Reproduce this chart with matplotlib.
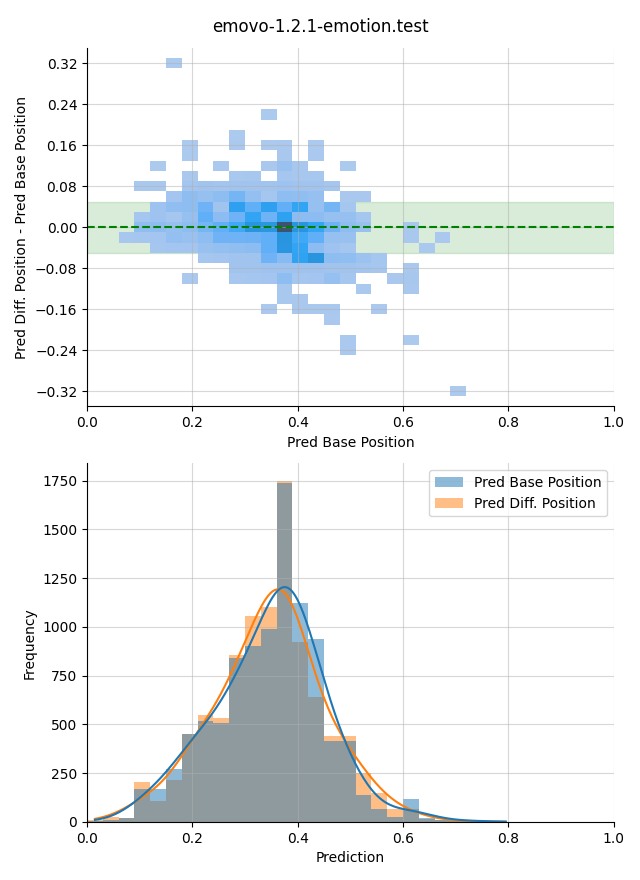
import numpy as np
import matplotlib
matplotlib.use("Agg")
import matplotlib.pyplot as plt
from matplotlib.patches import Patch
import seaborn as sns

title = "emovo-1.2.1-emotion.test"
base_label = "Pred Base Position"
diff_label = "Pred Diff. Position"

# histogram bins: 0.03 wide, starting at 0.0
bin_width = 0.03
x_edges = np.linspace(0.0, 0.81, 28)
y_edges = np.linspace(-0.33, 0.33, 34)

# bottom panel, counts per bin
base_counts = [5, 8, 22, 171, 171, 272, 453, 518, 505, 838, 900, 989, 1737, 1120,
               936, 417, 417, 137, 68, 24, 120, 20, 10, 8, 5, 3, 1]
diff_counts = [8, 25, 22, 203, 106, 217, 453, 549, 535, 854, 1054, 1100, 1750, 922,
               640, 438, 438, 251, 149, 67, 67, 15, 8, 5, 3, 1, 0]

# top panel: one entry per row of cells (y centre, first x bin, counts; 0 = empty)
row_y = [0.32, 0.22, 0.18, 0.16, 0.14, 0.12, 0.10, 0.08, 0.06, 0.04, 0.02, 0.0,
         -0.02, -0.04, -0.06, -0.08, -0.10, -0.12, -0.14, -0.16, -0.18, -0.22,
         -0.24, -0.32]
row_start = [5, 11, 9, 6, 6, 4, 6, 3, 5, 4, 3, 3,
             2, 4, 7, 9, 6, 12, 12, 11, 15, 16,
             16, 23]
row_counts = [
    [1],
    [1],
    [2],
    [2, 0, 0, 3, 0, 2, 3, 0, 2],
    [2, 0, 0, 0, 0, 0, 5, 0, 3],
    [2, 0, 0, 0, 3, 0, 0, 5, 40, 12, 0, 0, 2],
    [5, 0, 0, 8, 10, 0, 15, 12, 10],
    [8, 6, 0, 20, 25, 20, 25, 25, 25, 30, 25, 25, 15],
    [20, 60, 45, 60, 100, 50, 15, 60, 55, 45, 0, 5, 5],
    [30, 55, 60, 110, 25, 200, 130, 200, 130, 185, 45, 100, 15],
    [15, 30, 15, 45, 130, 65, 110, 185, 110, 195, 65, 65, 45, 45, 15],
    [55, 60, 45, 60, 100, 130, 165, 250, 240, 540, 250, 180, 110, 60, 40, 0, 0, 8],
    [10, 15, 20, 50, 40, 60, 110, 110, 115, 130, 250, 165, 130, 45, 40, 0, 0, 0, 8, 0, 3],
    [15, 20, 20, 40, 50, 55, 65, 130, 245, 185, 65, 30, 15, 0, 0, 0, 0, 3],
    [15, 20, 25, 25, 110, 70, 190, 250, 60, 55, 35, 15],
    [25, 25, 30, 30, 30, 30, 25, 25, 20, 15, 0, 5],
    [3, 0, 0, 10, 15, 20, 60, 15, 20, 45, 15, 0, 0, 5, 10],
    [8, 0, 0, 0, 0, 4, 0, 0, 5],
    [8, 5],
    [3, 0, 5, 8, 8, 0, 0, 3],
    [3],
    [3, 0, 0, 0, 2],
    [3],
    [1],
]

# flatten the cell rows into weighted points at the bin centres
x_centres = (x_edges[:-1] + x_edges[1:]) / 2
cell_x, cell_y, cell_n = [], [], []
for y, start, counts in zip(row_y, row_start, row_counts):
    for k, n in enumerate(counts):
        if n > 0:
            cell_x.append(x_centres[start + k])
            cell_y.append(y)
            cell_n.append(n)

fig, (ax1, ax2) = plt.subplots(2, 1, figsize=(6.4, 8.8))
fig.subplots_adjust(left=0.136, right=0.959, top=0.9455, bottom=0.066, hspace=0.159)
fig.suptitle(title, fontsize=12)

# 2d histogram of base position vs difference
band = ax1.axhspan(-0.05, 0.05, color="green", alpha=0.15)
band.set_zorder(0.4)
sns.histplot(x=cell_x, y=cell_y, weights=cell_n, bins=[list(x_edges), list(y_edges)], ax=ax1)
ax1.collections[-1].set_zorder(0.5)  # keep grid lines visible over the cells
ax1.axhline(0, color="green", linestyle="--", linewidth=1.5)
ax1.set_xlim(0, 1)
ax1.set_ylim(-0.35, 0.35)
ax1.set_yticks(np.round(np.arange(-0.32, 0.33, 0.08), 2))
ax1.set_xlabel(base_label)
ax1.set_ylabel(diff_label + " - " + base_label)
ax1.grid(True, alpha=0.5)
ax1.spines[["top", "right"]].set_visible(False)

# distribution of both predictions (orange first so blue sits on top)
for counts, color in [(diff_counts, "C1"), (base_counts, "C0")]:
    sns.histplot(x=x_centres, weights=np.array(counts, dtype=float),
                 binwidth=bin_width, binrange=(0.0, 0.81), kde=True, color=color,
                 alpha=0.5, linewidth=0, kde_kws={"bw_adjust": 0.6},
                 line_kws={"linewidth": 1.5}, ax=ax2)
ax2.set_xlim(0, 1)
ax2.set_xlabel("Prediction")
ax2.set_ylabel("Frequency")
ax2.grid(True, alpha=0.5)
ax2.spines[["top", "right"]].set_visible(False)
handles = [Patch(facecolor="C0", alpha=0.5, label=base_label),
           Patch(facecolor="C1", alpha=0.5, label=diff_label)]
ax2.legend(handles=handles, loc="upper right")

plt.savefig("out.png", dpi=100)
